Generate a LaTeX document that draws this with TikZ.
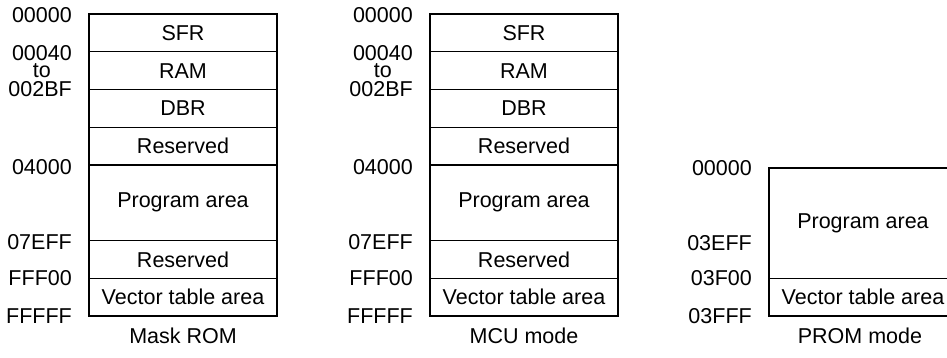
\documentclass[tikz,border=0pt]{standalone}
\usepackage{fontspec}
\setmainfont{Liberation Sans}
\usetikzlibrary{positioning}
\newcommand{\memfont}{\fontsize{21.5}{18.5}\selectfont}

\begin{document}
\begin{tikzpicture}[x=1pt,y=-1pt,
cell/.style={draw,line width=1.4pt,minimum width=188pt,minimum height=37.75pt,inner sep=0pt,outer sep=0pt,font=\memfont},
bigcell/.style={cell,minimum height=75.5pt},
addr/.style={inner sep=0pt,font=\memfont,align=center},
caption/.style={inner sep=0pt,font=\memfont}
]
\useasboundingbox (0,0) rectangle (947,357);
\clip (0,0) rectangle (947,357);

% Mask ROM
\node[cell] (sfrA) at (183,32.875) {SFR};
\node[cell,below=0pt of sfrA] (ramA) {RAM};
\node[cell,below=0pt of ramA] (dbrA) {DBR};
\node[cell,below=0pt of dbrA] (resA) {Reserved};
\node[bigcell,below=0pt of resA] (progA) {Program area};
\node[cell,below=0pt of progA] (resbA) {Reserved};
\node[cell,below=0pt of resbA] (vecA) {Vector table area};

\node[addr,left=17pt of sfrA.north west,yshift=-1.5pt] (zeroA) {00000};
\node[addr,left=17pt of ramA.north west,yshift=-1pt] (ramadrA) {00040};
\node[addr,below=3pt of ramadrA] (toA) {to};
\node[addr,left=17pt of ramA.south west] (ramendA) {002BF};
\node[addr,left=17pt of progA.north west,yshift=-2pt] (progadrA) {04000};
\node[addr,left=17pt of resbA.north west,yshift=-2pt] (endadrA) {07EFF};
\node[addr,left=17pt of vecA.north west] (vecadrA) {FFF00};
\node[addr,left=17pt of vecA.south west] (topadrA) {FFFFF};
\node[caption,below=12pt of vecA] (capA) {Mask ROM};

% MCU mode
\node[cell] (sfrB) at (524,32.875) {SFR};
\node[cell,below=0pt of sfrB] (ramB) {RAM};
\node[cell,below=0pt of ramB] (dbrB) {DBR};
\node[cell,below=0pt of dbrB] (resB) {Reserved};
\node[bigcell,below=0pt of resB] (progB) {Program area};
\node[cell,below=0pt of progB] (resbB) {Reserved};
\node[cell,below=0pt of resbB] (vecB) {Vector table area};

\node[addr,left=17pt of sfrB.north west,yshift=-1.5pt] (zeroB) {00000};
\node[addr,left=17pt of ramB.north west,yshift=-1pt] (ramadrB) {00040};
\node[addr,below=3pt of ramadrB] (toB) {to};
\node[addr,left=17pt of ramB.south west] (ramendB) {002BF};
\node[addr,left=17pt of progB.north west,yshift=-2pt] (progadrB) {04000};
\node[addr,left=17pt of resbB.north west,yshift=-2pt] (endadrB) {07EFF};
\node[addr,left=17pt of vecB.north west] (vecadrB) {FFF00};
\node[addr,left=17pt of vecB.south west] (topadrB) {FFFFF};
\node[caption,below=12pt of vecB] (capB) {MCU mode};

% PROM mode
\node[cell,minimum height=110.25pt] (progC) at (863,223.125) {Program area};
\node[cell,below=0pt of progC] (vecC) {Vector table area};

\node[addr,left=17pt of progC.north west] (zeroC) {00000};
\node[addr,left=17pt of progC.south west,yshift=35pt] (endadrC) {03EFF};
\node[addr,left=17pt of vecC.north west] (vecadrC) {03F00};
\node[addr,left=17pt of vecC.south west] (topadrC) {03FFF};
\node[caption,below=12pt of vecC,xshift=-3pt] (capC) {PROM mode};
\end{tikzpicture}
\end{document}
